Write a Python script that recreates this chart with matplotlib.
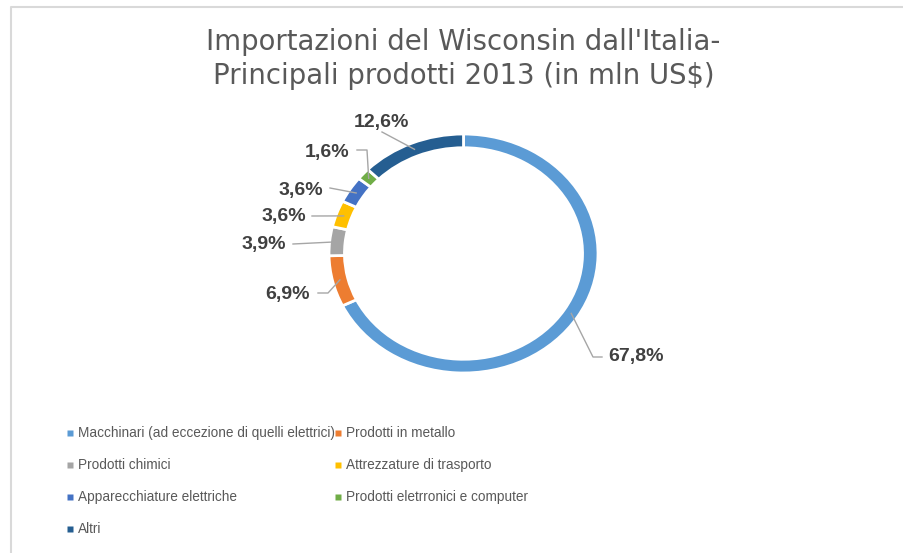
import numpy as np
import matplotlib
matplotlib.use('Agg')
import matplotlib.pyplot as plt

# data
categories = ['Macchinari (ad eccezione di quelli elettrici)', 'Prodotti in metallo',
              'Prodotti chimici', 'Attrezzature di trasporto',
              'Apparecchiature elettriche', 'Prodotti eletrronici e computer', 'Altri']
shares = [67.8, 6.9, 3.9, 3.6, 3.6, 1.6, 12.6]
pct_labels = ['67,8%', '6,9%', '3,9%', '3,6%', '3,6%', '1,6%', '12,6%']
colors = ['#5B9BD5', '#ED7D31', '#A5A5A5', '#FFC000', '#4472C4', '#70AD47', '#255E91']

title = "Importazioni del Wisconsin dall'Italia-\nPrincipali prodotti 2013 (in mln US$)"

plt.rcParams['font.family'] = ['Liberation Sans', 'DejaVu Sans']

W, H = 904, 553
fig = plt.figure(figsize=(W / 100, H / 100), dpi=100)

# donut geometry in pixels (slightly stretched horizontally like the original)
cx, cy, rx, ry = 463.5, 253.5, 134.5, 119.5
ax = fig.add_axes([(cx - rx) / W, (H - cy - ry) / H, 2 * rx / W, 2 * ry / H])
ax.pie(shares, colors=colors, startangle=90, counterclock=False, radius=1,
       wedgeprops=dict(width=0.115, edgecolor='white', linewidth=2))
ax.set_aspect('auto')
ax.set_xlim(-1, 1)
ax.set_ylim(-1, 1)
ax.axis('off')

# overlays in pixel coords for border, leader lines, labels, legend
ov = fig.add_axes([0, 0, 1, 1], zorder=-1)
ov.set_xlim(0, W)
ov.set_ylim(H, 0)
ov.axis('off')
ov2 = fig.add_axes([0, 0, 1, 1], zorder=5)
ov2.set_xlim(0, W)
ov2.set_ylim(H, 0)
ov2.axis('off')
ov2.patch.set_alpha(0)

# chart border (cut off at right/bottom)
ov.plot([11, 11, W + 5], [H + 5, 7, 7], color='#D9D9D9', lw=1.5)

ov2.text(cx, 59, title, ha='center', va='center', fontsize=19.8, color='#595959',
         linespacing=1.25, family='DejaVu Sans')

# label layout: (text x, text y, ha, leader points after the ring anchor)
label_layout = [
    (608, 357, 'left', [(593, 357), (602, 357)]),
    (310, 294, 'right', [(328, 293), (318, 293)]),
    (286, 245, 'right', [(293, 244)]),
    (306, 217, 'right', [(312, 216)]),
    (323, 190, 'right', [(330, 188)]),
    (349, 153, 'right', [(367, 150), (357, 150)]),
    (381, 122, 'center', [(382, 132)]),
]

cum = np.cumsum([0] + shares[:-1])
for i, v in enumerate(shares):
    theta = np.deg2rad(90 - 360 * (cum[i] + v / 2) / 100)
    ax_x = cx + rx * 0.945 * np.cos(theta)
    ax_y = cy - ry * 0.945 * np.sin(theta)
    tx, ty, ha, pts = label_layout[i]
    xs = [ax_x] + [p[0] for p in pts]
    ys = [ax_y] + [p[1] for p in pts]
    ov2.plot(xs, ys, color='#A6A6A6', lw=1)
    ov2.text(tx, ty, pct_labels[i], ha=ha, va='center', fontsize=14,
             fontweight='bold', color='#404040')

# legend, two columns
col_x = [70, 338]
row_y = [433, 465, 497, 529]
for i, name in enumerate(categories):
    x = col_x[i % 2]
    y = row_y[i // 2]
    ov2.plot(x, y, marker='s', ms=4.5, color=colors[i], mec='none')
    ov2.text(x + 8, y, name, ha='left', va='center', fontsize=9.8,
             color='#595959')

fig.savefig('out.png', dpi=100)
